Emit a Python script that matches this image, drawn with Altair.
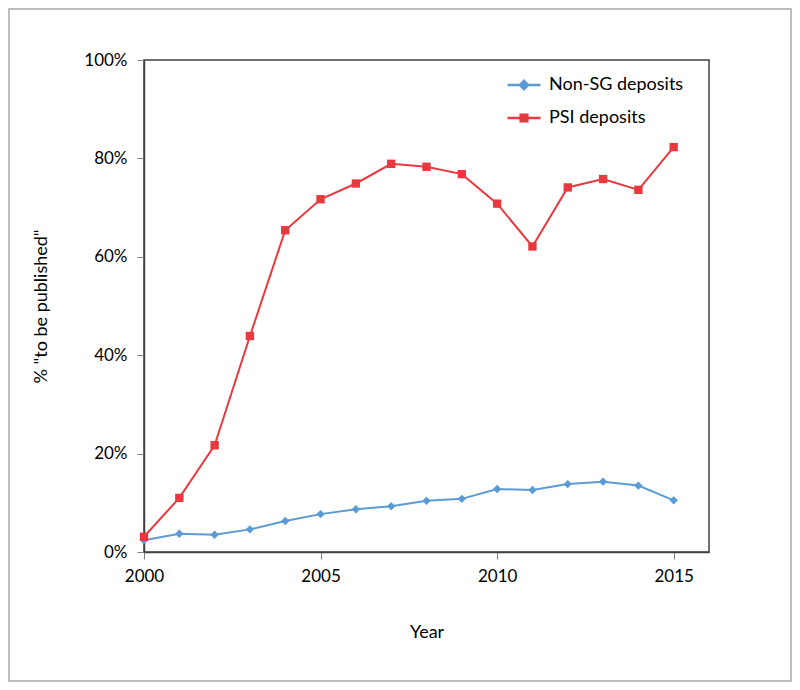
import altair as alt
import pandas as pd

years = list(range(2000, 2016))
series_names = ["Non-SG deposits", "PSI deposits"]
non_sg = [2.4, 3.7, 3.5, 4.6, 6.3, 7.7, 8.7, 9.3, 10.4, 10.8, 12.8, 12.6, 13.8, 14.3, 13.5, 10.5]
psi = [3.1, 11.0, 21.7, 43.9, 65.4, 71.7, 74.9, 78.9, 78.3, 76.8, 70.8, 62.1, 74.1, 75.8, 73.6, 82.3]
x_ticks = [2000, 2005, 2010, 2015]
y_ticks = [0, 0.2, 0.4, 0.6, 0.8, 1.0]
colors = ["#5B9BD5", "#E8393F"]

rows = []
for y, v in zip(years, non_sg):
    rows.append({"Year": y, "value": v / 100, "series": series_names[0]})
for y, v in zip(years, psi):
    rows.append({"Year": y, "value": v / 100, "series": series_names[1]})
df = pd.DataFrame(rows)

FONT = "Lato"

x = alt.X("Year:Q", scale=alt.Scale(domain=[2000, 2016], nice=False, zero=False),
          axis=alt.Axis(values=x_ticks, format="d", title="Year", titlePadding=39,
                        labelPadding=9, tickSize=7, grid=False, labelFlush=False))
y = alt.Y("value:Q", scale=alt.Scale(domain=[0, 1], nice=False),
          axis=alt.Axis(values=y_ticks, format=".0%", title='% "to be published"',
                        titlePadding=33, labelPadding=10, tickSize=7, grid=False, labelFlush=False))
color = alt.Color("series:N", scale=alt.Scale(domain=series_names, range=colors), legend=None)

frame = alt.Chart(alt.Data(values=[{"a": 1}])).mark_rect(
    filled=False, stroke="#A6A6A6", strokeWidth=1.5
).encode(x=alt.value(-135), x2=alt.value(647), y=alt.value(-51), y2=alt.value(621))

lines = alt.Chart(df).mark_line(strokeWidth=2).encode(x=x, y=y, color=color, detail="series:N")

points = alt.Chart(df).mark_point(filled=True, size=70, opacity=1).encode(
    x=x, y=y, color=color,
    shape=alt.Shape("series:N", scale=alt.Scale(domain=series_names, range=["diamond", "square"]), legend=None),
)

legend_paths = [
    "M-1,0L1,0M0,-0.25L0.25,0L0,0.25L-0.25,0Z M0,-0.15L0.15,0L0,0.15L-0.15,0Z",
    "M-1,0L1,0M-0.2,-0.2L0.2,-0.2L0.2,0.2L-0.2,0.2Z M-0.1,-0.1L0.1,-0.1L0.1,0.1L-0.1,0.1Z",
]
legend_layer = alt.Chart(df).transform_filter("false").transform_calculate(
    lg="datum.series"
).mark_point(filled=False, strokeWidth=2.5, opacity=1).encode(
    x=x, y=y,
    color=alt.Color("lg:N", scale=alt.Scale(domain=series_names, range=colors),
                    legend=alt.Legend(orient="none", legendX=362, legendY=7, title=None,
                                      symbolSize=1089, labelFontSize=18, labelFont=FONT,
                                      labelColor="#000000", labelOffset=7, rowPadding=5,
                                      symbolStrokeWidth=2.5)),
    shape=alt.Shape("lg:N", scale=alt.Scale(domain=series_names, range=legend_paths), legend=None),
)

chart = alt.layer(frame, lines, points, legend_layer).resolve_scale(
    color="independent", shape="independent"
).properties(
    width=565, height=492,
    autosize=alt.AutoSizeParams(type="none"),
    padding={"left": 136, "top": 52, "right": 83, "bottom": 130},
).configure_view(
    stroke="#404040", strokeWidth=1.5
).configure_axis(
    labelFont=FONT, titleFont=FONT, labelFontSize=17, titleFontSize=18,
    labelColor="#000000", titleColor="#000000", titleFontWeight="normal",
    domainColor="#404040", domainWidth=1.5, tickColor="#808080", tickWidth=1,
)

chart.save("out.html", embed_options={"renderer": "svg", "actions": False})
